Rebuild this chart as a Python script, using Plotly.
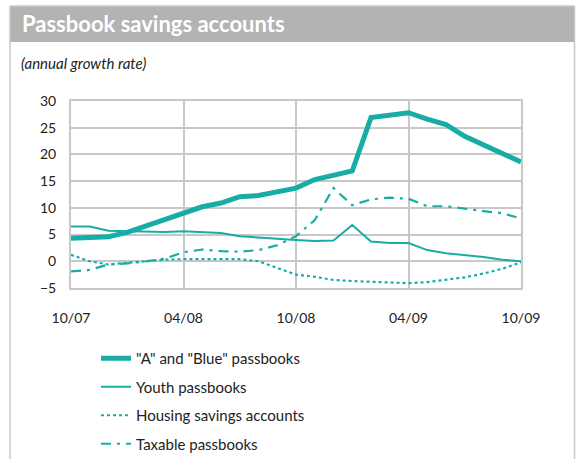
import plotly.graph_objects as go

months = ["10/07", "11/07", "12/07", "01/08", "02/08", "03/08", "04/08", "05/08", "06/08",
          "07/08", "08/08", "09/08", "10/08", "11/08", "12/08", "01/09", "02/09", "03/09",
          "04/09", "05/09", "06/09", "07/09", "08/09", "09/09", "10/09"]
tick_labels = ["10/07", "04/08", "10/08", "04/09", "10/09"]

a_blue = [4.3, 4.4, 4.6, 5.4, 6.6, 7.9, 9.1, 10.2, 10.9, 12.1, 12.3, 13.0, 13.7,
          15.3, 16.0, 16.9, 26.9, 27.3, 27.8, 26.6, 25.6, 23.4, 21.8, 20.2, 18.6]
youth = [6.5, 6.5, 5.7, 5.6, 5.5, 5.5, 5.6, 5.5, 5.3, 4.7, 4.4, 4.2, 4.0,
         3.8, 3.9, 6.8, 3.7, 3.4, 3.4, 2.1, 1.5, 1.2, 0.8, 0.3, 0.0]
housing = [1.2, 0.0, -0.6, -0.3, 0.0, 0.3, 0.4, 0.4, 0.5, 0.4, 0.0, -1.2, -2.5,
           -2.9, -3.5, -3.7, -3.8, -4.0, -4.1, -3.9, -3.5, -3.0, -2.3, -1.4, -0.2]
taxable = [-1.9, -1.6, -0.6, -0.4, 0.0, 0.5, 1.7, 2.2, 1.9, 1.8, 2.1, 3.0, 4.7,
           7.7, 13.7, 10.5, 11.6, 11.9, 11.7, 10.3, 10.3, 9.8, 9.4, 9.0, 8.0]

names = ['"A" and "Blue" passbooks', "Youth passbooks", "Housing savings accounts", "Taxable passbooks"]
TEAL = "#17ada6"
FONT = "Lato, 'Open Sans', sans-serif"
GRID = "#c8c8c8"

fig = go.Figure()
series = [(a_blue, 5, "solid"), (youth, 2, "solid"), (housing, 2.2, "dot"), (taxable, 2.2, "10px,6px,3px,6px")]
for i, (vals, w, dash) in enumerate(series):
    fig.add_trace(go.Scatter(
        x=months, y=vals, mode="lines", name=names[i], legendgroup=f"g{i}",
        line=dict(color=TEAL, width=w, dash=dash), hoverinfo="skip"))

W, H = 580, 459
L, R, T, B = 71, 59, 101, 171
pw, ph = W - L - R, H - T - B


def px_x(x):
    return (x - L) / pw


def px_y(y):
    return (H - B - y) / ph


# header band
fig.add_shape(type="rect", xref="paper", yref="paper", x0=px_x(10), x1=px_x(574.5), y0=px_y(42), y1=px_y(6),
              fillcolor="#b3b3b3", line=dict(width=0), layer="below")
# border lines
for x in (10, 574.5):
    fig.add_shape(type="line", xref="paper", yref="paper", x0=px_x(x), x1=px_x(x), y0=px_y(6), y1=px_y(462),
                  line=dict(color="#c8c8c8", width=1.5))
fig.add_shape(type="line", xref="paper", yref="paper", x0=px_x(10), x1=px_x(574.5), y0=px_y(6), y1=px_y(6),
              line=dict(color="#c8c8c8", width=1.5))

fig.add_annotation(text="<b>Passbook savings accounts</b>", xref="paper", yref="paper",
                   x=px_x(20), y=px_y(24), xanchor="left", yanchor="middle", showarrow=False,
                   font=dict(family=FONT, size=22, color="white"))
fig.add_annotation(text="<i>(annual growth rate)</i>", xref="paper", yref="paper",
                   x=px_x(19), y=px_y(63), xanchor="left", yanchor="middle", showarrow=False,
                   font=dict(family=FONT, size=15, color="#222222"))

fig.update_layout(
    width=W, height=H, margin=dict(l=L, r=R, t=T, b=B, autoexpand=False),
    paper_bgcolor="white", plot_bgcolor="white",
    font=dict(family=FONT, size=14, color="#222222"),
    showlegend=True,
    legend=dict(x=px_x(96), y=px_y(342), xanchor="left", yanchor="top", tracegroupgap=6,
                font=dict(family=FONT, size=15, color="#222222"), bgcolor="rgba(0,0,0,0)"),
    xaxis=dict(type="category", range=[0, 24], tickmode="array", tickvals=tick_labels, ticktext=tick_labels,
               showgrid=True, gridcolor=GRID, gridwidth=1.5, showline=True, linecolor=GRID, linewidth=2,
               mirror=True, ticks="", ticklabelstandoff=16, zeroline=False),
    yaxis=dict(range=[-5, 30], dtick=5, showgrid=True, gridcolor=GRID, gridwidth=1.5, showline=True,
               linecolor=GRID, linewidth=2, mirror=True, ticks="", ticklabelstandoff=10, zeroline=False),
)

fig.write_html("out.html")
